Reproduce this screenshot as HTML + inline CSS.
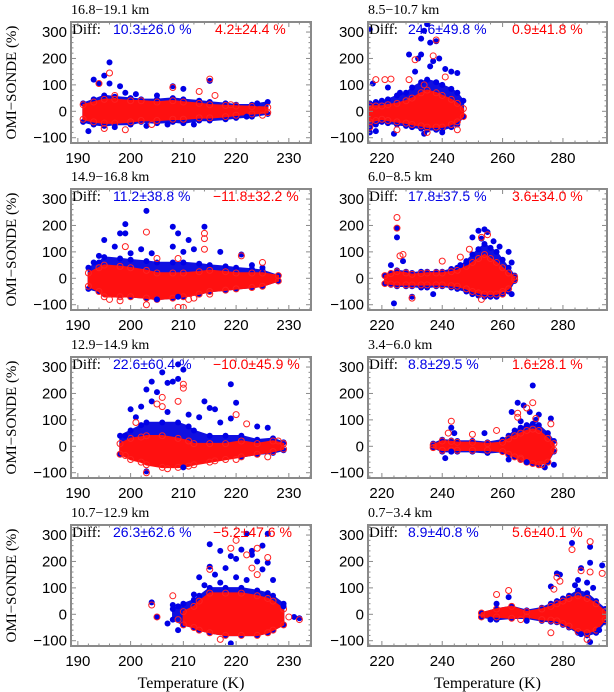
<!DOCTYPE html>
<html><head><meta charset="utf-8"><style>
body{margin:0;background:#fff;}
svg{display:block;}
text{font-family:"Liberation Sans",sans-serif;}
.serif{font-family:"Liberation Serif",serif;}
</style></head><body>
<svg id="chart" width="614" height="692" viewBox="0 0 614 692" xmlns="http://www.w3.org/2000/svg"></svg>
<script>
// ---- data ----
const panelTitles = ["16.8\u221219.1 km","8.5\u221210.7 km","14.9\u221216.8 km","6.0\u22128.5 km","12.9\u221214.9 km","3.4\u22126.0 km","10.7\u221212.9 km","0.7\u22123.4 km"];
const blueStats = ["10.3\u00b126.0 %","24.6\u00b149.8 %","11.2\u00b138.8 %","17.8\u00b137.5 %","22.6\u00b160.4 %","8.8\u00b129.5 %","26.3\u00b162.6 %","8.9\u00b140.8 %"];
const redStats = ["4.2\u00b124.4 %","0.9\u00b141.8 %","\u221211.8\u00b132.2 %","3.6\u00b134.0 %","\u221210.0\u00b145.9 %","1.6\u00b128.1 %","\u22125.2\u00b147.6 %","5.6\u00b140.1 %"];
const leftXTicks = [190,200,210,220,230];
const rightXTicks = [220,240,260,280];
const yTicks = [-100,0,100,200,300];

// core envelopes [T, lo, hi]
const blueEnv = [
 [[191,-40,30],[193,-50,45],[195,-55,60],[197,-50,55],[200,-50,50],[202,-40,45],[205,-45,45],[208,-40,50],[210,-45,45],[213,-35,40],[215,-35,35],[218,-30,30],[220,-25,25],[223,-20,25],[226,-10,35]],
 [[216,-60,30],[218,-50,35],[220,-40,40],[222,-45,45],[225,-50,60],[228,-55,70],[230,-60,90],[233,-65,110],[235,-70,120],[238,-70,110],[240,-70,100],[243,-60,85],[245,-50,70],[247,-20,40]],
 [[192,-40,40],[194,-50,60],[195,-60,80],[198,-65,75],[200,-70,70],[203,-75,65],[205,-80,60],[208,-75,60],[210,-70,60],[213,-60,55],[215,-50,50],[218,-45,45],[220,-40,40],[223,-35,35],[225,-30,30],[228,-10,10]],
 [[221,-20,10],[223,-25,20],[225,-30,30],[228,-30,25],[230,-30,20],[233,-35,25],[235,-35,25],[238,-30,25],[240,-30,25],[243,-35,35],[245,-40,40],[248,-50,65],[250,-60,90],[252,-65,110],[254,-70,130],[256,-70,115],[258,-70,100],[260,-60,70],[262,-50,40],[264,-10,10]],
 [[198,-30,40],[200,-40,60],[202,-50,80],[203,-60,90],[206,-70,90],[209,-70,90],[211,-65,75],[212,-60,60],[215,-50,40],[218,-40,40],[221,-40,40],[224,-30,25],[227,-25,30],[229,-15,15]],
 [[237,-5,10],[240,-20,25],[243,-20,22],[245,-20,20],[250,-20,20],[255,-25,15],[260,-20,25],[262,-30,40],[264,-40,60],[266,-50,70],[268,-60,80],[270,-65,85],[272,-70,80],[275,-60,50],[277,-20,20]],
 [[208,-20,20],[210,-40,40],[212,-50,55],[213,-60,70],[215,-70,100],[218,-80,100],[221,-80,100],[224,-80,90],[226,-70,80],[227,-60,70],[229,-40,40]],
 [[253,-10,5],[258,-20,20],[263,-15,30],[268,-15,15],[273,-25,25],[276,-28,40],[278,-30,50],[280,-40,60],[282,-50,70],[285,-70,90],[288,-80,80],[291,-70,50],[294,-30,20]]
];
const redEnv = [
 [[191,-30,25],[193,-40,35],[195,-45,45],[197,-45,45],[200,-40,40],[202,-35,40],[205,-35,35],[208,-30,40],[210,-30,35],[213,-25,30],[215,-25,25],[218,-20,22],[220,-15,20],[223,-10,18],[226,-5,15]],
 [[216,-40,20],[218,-35,20],[220,-30,20],[222,-35,25],[225,-40,30],[228,-45,40],[230,-50,50],[233,-55,70],[235,-60,80],[238,-60,70],[240,-60,60],[243,-50,45],[245,-40,30],[247,-20,10]],
 [[192,-30,20],[194,-50,40],[195,-70,50],[198,-70,45],[200,-70,40],[203,-75,30],[205,-80,20],[208,-75,20],[210,-70,20],[213,-60,25],[215,-50,30],[218,-45,25],[220,-40,20],[223,-35,20],[225,-30,20],[228,-10,10]],
 [[221,-20,10],[223,-22,18],[225,-25,25],[228,-25,20],[230,-25,15],[233,-25,18],[235,-25,20],[238,-25,20],[240,-25,20],[243,-28,25],[245,-30,30],[248,-40,45],[250,-50,60],[252,-55,75],[254,-60,90],[256,-60,75],[258,-60,60],[260,-50,40],[262,-40,20],[264,-5,5]],
 [[198,-30,10],[200,-50,30],[202,-60,35],[203,-70,40],[206,-80,40],[209,-80,30],[211,-75,20],[212,-70,10],[215,-60,10],[218,-50,10],[221,-40,20],[224,-30,10],[227,-20,20],[229,-10,10]],
 [[237,-5,5],[240,-15,20],[243,-15,18],[245,-15,15],[250,-15,15],[255,-15,10],[260,-20,15],[262,-30,28],[264,-40,40],[266,-50,50],[268,-60,60],[270,-65,65],[272,-70,60],[275,-60,30],[277,-15,10]],
 [[210,-40,10],[212,-50,30],[213,-60,50],[215,-70,80],[218,-80,80],[221,-80,80],[224,-80,70],[226,-70,60],[227,-60,50],[229,-40,20]],
 [[253,-10,5],[258,-10,20],[263,-15,30],[268,-10,10],[273,-20,20],[276,-22,30],[278,-25,40],[280,-35,50],[282,-45,60],[285,-65,70],[288,-70,60],[291,-60,40],[294,-20,10]]
];
// scattered points [T, diff]
const bluePts = [
 [[196,185],[195,135],[193,120],[194,105],[196,105],[198,95],[208,95],[210,85],[215,115],[192,-75],[197,-60],[205,60],[212,-50],[222,-20],[224,30],[199,70],[203,-55],[207,-50],[201,65]],
 [[235,330],[234,305],[233,275],[236,260],[238,265],[229,215],[233,215],[232,200],[237,190],[239,200],[236,170],[243,150],[245,145],[217,105],[216,310],[222,90],[224,-85],[216,-80],[218,-75],[234,-85],[240,-80],[226,70],[231,150],[241,160]],
 [[203,255],[208,195],[214,195],[199,205],[198,170],[199,170],[209,170],[211,145],[195,145],[197,120],[202,110],[208,120],[212,110],[217,100],[221,90],[223,50],[225,40],[194,85],[193,60],[205,-80],[209,-70],[204,95],[210,100],[200,95]],
 [[225,190],[225,155],[224,-95],[223,50],[227,65],[254,185],[252,180],[255,175],[250,155],[257,140],[259,120],[262,100],[263,60],[248,60],[230,-70],[237,-60],[263,-60],[253,150],[246,50]],
 [[209,310],[210,290],[206,280],[207,240],[208,245],[204,245],[209,255],[203,215],[205,205],[204,170],[219,235],[214,170],[215,145],[216,140],[220,165],[219,105],[217,90],[224,75],[226,70],[200,140],[202,150],[199,40],[203,-95],[210,-80],[207,130],[211,120],[213,110],[201,110]],
 [[270,230],[265,165],[263,130],[267,155],[269,130],[272,120],[276,105],[243,70],[244,50],[241,-45],[243,-20],[262,-50],[268,-60],[274,-80],[277,-70],[254,50],[271,100],[266,95]],
 [[226,305],[222,305],[215,265],[225,260],[217,240],[221,245],[223,240],[219,220],[220,210],[223,225],[224,200],[226,195],[215,180],[218,175],[213,140],[216,150],[225,170],[227,130],[204,45],[208,35],[209,30],[212,75],[219,-110],[209,-60],[207,-35],[205,-10],[231,-10],[232,-15],[229,30],[220,140],[222,130],[217,120],[214,110]],
 [[283,270],[289,255],[289,195],[293,185],[286,175],[278,155],[279,150],[285,130],[288,120],[276,105],[262,65],[258,40],[289,-105],[286,-75],[292,-60],[256,-20],[268,-25],[284,110],[290,100]]
];
const redPts = [
 [[196,145],[215,122],[194,105],[216,60],[199,-70],[195,-65],[213,75],[208,90],[219,25],[225,-15],[197,60],[204,-50]],
 [[238,270],[231,195],[237,210],[218,120],[221,120],[223,122],[229,120],[241,130],[245,-70],[235,-80],[225,-70],[216,-60],[234,100]],
 [[203,175],[214,170],[214,150],[214,110],[199,120],[205,75],[209,75],[221,85],[225,60],[203,-100],[209,-110],[210,-110],[212,-75],[211,-80],[215,-60],[198,-85],[196,-80]],
 [[225,230],[225,190],[226,85],[227,90],[240,65],[246,80],[253,155],[249,110],[255,165],[230,-75],[253,-80],[260,-60]],
 [[210,235],[210,220],[206,185],[205,160],[206,150],[209,170],[220,120],[222,85],[201,90],[199,-35],[203,-100],[207,-85],[216,-55],[220,-50],[226,-40],[228,20]],
 [[243,95],[242,50],[270,165],[268,145],[265,125],[265,110],[271,105],[276,85],[266,-45],[273,-70],[258,60],[250,45]],
 [[220,280],[219,250],[224,250],[222,225],[223,175],[224,150],[226,215],[215,170],[208,70],[204,35],[205,-10],[209,-20],[230,-10],[232,-20],[217,-95]],
 [[283,245],[289,275],[289,160],[293,155],[286,165],[278,140],[279,125],[277,95],[262,90],[258,75],[288,-95],[276,-70],[266,-20]]
];

// ---- drawing ----
const NS = "http://www.w3.org/2000/svg";
const svg = document.getElementById("chart");
function mk(tag, attrs, parent){const e=document.createElementNS(NS,tag);for(const k in attrs)e.setAttribute(k,attrs[k]);(parent||svg).appendChild(e);return e;}
const rowTops=[22,189,357,525], H=121;
const colX=[[71,311],[368,607]];
const xDom=[[188.7,234.2],[215.4,294.6]];
const yDom=[-120,338];

for(let i=0;i<8;i++){
  const col=i%2,row=Math.floor(i/2);
  const x0=colX[col][0],x1=colX[col][1],y0=rowTops[row],y1=y0+H;
  const xs=v=>x0+(v-xDom[col][0])/(xDom[col][1]-xDom[col][0])*(x1-x0);
  const ys=v=>y1-(v-yDom[0])/(yDom[1]-yDom[0])*(y1-y0);
  const g=mk("g",{});
  
  
  const clipId='clip'+i;
  const cp=mk("clipPath",{id:clipId},g);mk("rect",{x:x0,y:y0,width:x1-x0,height:H},cp);
  const plot=mk("g",{"clip-path":"url(#"+clipId+")"},g);
  function env(arr,fill,name){
    let pts=arr.map(d=>xs(d[0])+","+ys(d[2]));
    pts=pts.concat(arr.slice().reverse().map(d=>xs(d[0])+","+ys(d[1])));
    const p=mk("polygon",{points:pts.join(" "),fill:fill,stroke:fill,"stroke-width":1.5,"stroke-linejoin":"round"},plot);
    
    
  }
  env(blueEnv[i],"#1010e0","blue-core-cloud");
  // fringe blue dots at envelope edges
  blueEnv[i].forEach(d=>{
    [d[1],d[2]].forEach(v=>{
      const c=mk("circle",{cx:xs(d[0]),cy:ys(v),r:3,fill:"#0000e6"},plot);
      
      
    });
  });
  env(redEnv[i],"#ff1010","red-core-cloud");
  redEnv[i].forEach(d=>{
    [d[1],d[2]].forEach(v=>{
      const c=mk("circle",{cx:xs(d[0]),cy:ys(v),r:3,fill:"none",stroke:"#ff2020","stroke-width":1},plot);
      
      
    });
  });
  bluePts[i].forEach(d=>{
    const c=mk("circle",{cx:xs(d[0]),cy:ys(d[1]),r:3,fill:"#0000e6"},plot);
    
    
  });
  redPts[i].forEach(d=>{
    const c=mk("circle",{cx:xs(d[0]),cy:ys(d[1]),r:3,fill:"none",stroke:"#ff2020","stroke-width":1},plot);
    
    
  });
  const fr=mk("rect",{x:x0,y:y0,width:x1-x0,height:H,fill:"none",stroke:"#8a8a8a","stroke-width":2},g);
  
  
  const xt=col?rightXTicks:leftXTicks;
  const step=col?20:10;
  for(let v=Math.ceil(xDom[col][0]/(step/5))*(step/5);v<=xDom[col][1];v+=step/5){
    const maj=Math.abs(v/step-Math.round(v/step))<1e-6, L=maj?5:2.5;
    mk("line",{x1:xs(v),x2:xs(v),y1:y1,y2:y1-L,stroke:"#8a8a8a"},g);
    mk("line",{x1:xs(v),x2:xs(v),y1:y0,y2:y0+L,stroke:"#8a8a8a"},g);
  }
  for(let v=-100;v<=320;v+=20){
    const maj=v%100===0,L=maj?5:2.5;
    mk("line",{x1:x0,x2:x0+L,y1:ys(v),y2:ys(v),stroke:"#8a8a8a"},g);
    mk("line",{x1:x1,x2:x1-L,y1:ys(v),y2:ys(v),stroke:"#8a8a8a"},g);
  }
  xt.forEach(v=>{
    const t=mk("text",{x:xs(v),y:y1+20,"text-anchor":"middle","font-size":15,fill:"#000"},g);
    t.textContent=v;
    
    
  });
  yTicks.forEach(v=>{
    const t=mk("text",{x:x0-4,y:ys(v)+5,"text-anchor":"end","font-size":15,fill:"#000"},g);
    t.textContent=v<0?"\u2212"+(-v):v;
    
    
  });
  const tt=mk("text",{x:x0,y:y0-8,"font-size":14,fill:"#000",class:"serif"},g);
  tt.textContent=panelTitles[i];
  
  
  const df=mk("text",{x:x0+1,y:y0+12,"font-size":15,fill:"#000",class:"serif"},g);
  df.textContent="Diff:";
  
  
  const bs=mk("text",{x:x0+(col?40:42),y:y0+12,"font-size":14,fill:"#0000e6"},g);
  bs.textContent=blueStats[i];
  
  
  const rs=mk("text",{x:x0+(col?144:(redStats[i][0]==="\u2212"?142:144)),y:y0+12,"font-size":14,fill:"#ff0000"},g);
  rs.textContent=redStats[i];
  
  
  if(col===0){
    const yt=mk("text",{x:0,y:0,"font-size":15,fill:"#000",class:"serif","text-anchor":"middle",transform:"translate(16,"+(y0+H/2)+") rotate(-90)"},g);
    yt.textContent="OMI\u2212SONDE (%)";
    
    
  }
  if(row===3){
    const xt2=mk("text",{x:(x0+x1)/2,y:688,"font-size":16,fill:"#000",class:"serif","text-anchor":"middle"},g);
    xt2.textContent="Temperature (K)";
    
    
  }
}
</script>
</body></html>
